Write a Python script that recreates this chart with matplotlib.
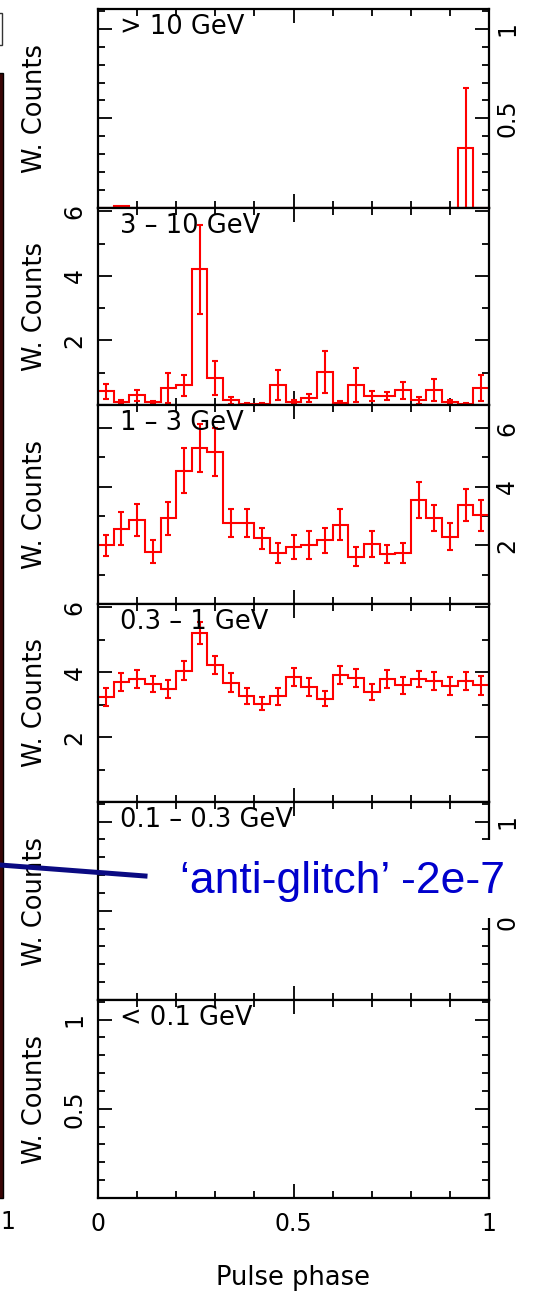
import numpy as np
import matplotlib
matplotlib.use("Agg")
import matplotlib.pyplot as plt
from matplotlib.patches import Rectangle
from matplotlib.lines import Line2D
from matplotlib.ticker import MultipleLocator

# ---------------------------------------------------------------------------
# Weighted pulse-phase histograms, 25 phase bins per energy band
# ---------------------------------------------------------------------------
n_bins = 25
phase_edges = np.linspace(0.0, 1.0, n_bins + 1)

band_labels = ["> 10 GeV", "3 \u2013 10 GeV", "1 \u2013 3 GeV",
               "0.3 \u2013 1 GeV", "0.1 \u2013 0.3 GeV", "< 0.1 GeV"]

counts_gt10 = [0, 0.01, 0, 0, 0, 0, 0, 0, 0, 0, 0, 0, 0, 0, 0, 0, 0, 0, 0, 0,
               0, 0, 0, 0.333, 0]
err_gt10 = [0, 0, 0, 0, 0, 0, 0, 0, 0, 0, 0, 0, 0, 0, 0, 0, 0, 0, 0, 0,
            0, 0, 0, 0.335, 0]

counts_3_10 = [0.42, 0.09, 0.30, 0.08, 0.53, 0.61, 4.20, 0.83, 0.14, 0.04,
               0.04, 0.61, 0.09, 0.22, 1.02, 0.07, 0.61, 0.27, 0.27, 0.45,
               0.14, 0.47, 0.09, 0.04, 0.53]
err_3_10 = [0.24, 0.05, 0.17, 0.05, 0.47, 0.33, 1.38, 0.53, 0.11, 0.03,
            0.03, 0.47, 0.05, 0.13, 0.65, 0.05, 0.53, 0.15, 0.13, 0.27,
            0.10, 0.34, 0.05, 0.03, 0.41]

counts_1_3 = [2.00, 2.57, 2.86, 1.79, 2.92, 4.55, 5.32, 5.18, 2.77, 2.77,
              2.25, 1.74, 1.94, 2.02, 2.17, 2.71, 1.62, 2.05, 1.71, 1.74,
              3.54, 2.94, 2.29, 3.38, 3.02]
err_1_3 = [0.35, 0.57, 0.55, 0.39, 0.57, 0.77, 0.81, 0.82, 0.47, 0.48,
           0.36, 0.33, 0.41, 0.47, 0.44, 0.53, 0.31, 0.43, 0.31, 0.34,
           0.62, 0.45, 0.46, 0.54, 0.53]

counts_03_1 = [3.24, 3.70, 3.79, 3.64, 3.48, 4.05, 5.22, 4.21, 3.67, 3.26,
               3.03, 3.26, 3.86, 3.55, 3.18, 3.91, 3.82, 3.38, 3.79, 3.59,
               3.79, 3.72, 3.57, 3.72, 3.59]
err_03_1 = [0.28, 0.28, 0.28, 0.25, 0.27, 0.28, 0.34, 0.28, 0.29, 0.25,
            0.21, 0.26, 0.28, 0.27, 0.23, 0.28, 0.28, 0.24, 0.27, 0.27,
            0.25, 0.28, 0.27, 0.28, 0.28]

# no photons survive in the two lowest bands
band_counts = [counts_gt10, counts_3_10, counts_1_3, counts_03_1, None, None]
band_errors = [err_gt10, err_3_10, err_1_3, err_03_1, None, None]

y_max = [1.11, 6.1, 6.79, 6.1, 1.11, 1.11]
y_major = [[0.5, 1], [2, 4, 6], [2, 4, 6], [2, 4, 6], [0.5, 1], [0.5, 1]]
y_major_text = [["0.5", "1"], ["2", "4", "6"], ["2", "4", "6"],
                ["2", "4", "6"], ["0.5", "1"], ["0.5", "1"]]
y_minor_step = [0.1, 1, 1, 1, 0.1, 0.1]
label_side = ["right", "left", "right", "left", "right", "left"]

x_ticks = [0, 0.5, 1]
x_tick_text = ["0", "0.5", "1"]

# ---------------------------------------------------------------------------
W, H = 548, 1292
fig = plt.figure(figsize=(W / 100, H / 100), dpi=100)
plt.rcParams["font.family"] = "DejaVu Sans"


def fx(x):
    return x / W


def fy(y):
    return 1 - y / H


panel_left, panel_right = 98, 489
panel_bounds = [9, 208, 405, 604, 802, 1000, 1198]
FS = 17       # tick labels
FS_LAB = 18.5  # axis / band labels

for i in range(6):
    top, bot = panel_bounds[i], panel_bounds[i + 1]
    ax = fig.add_axes([fx(panel_left), fy(bot), fx(panel_right - panel_left),
                       (bot - top) / H])
    ax.set_xlim(0, 1)
    ax.set_ylim(0, y_max[i])

    if band_counts[i] is not None:
        vals = np.asarray(band_counts[i])
        errs = np.asarray(band_errors[i])
        ax.stairs(vals, phase_edges, color="red", lw=1.5, zorder=2)
        centers = 0.5 * (phase_edges[:-1] + phase_edges[1:])
        has_err = errs > 0
        ax.errorbar(centers[has_err], vals[has_err], yerr=errs[has_err],
                    fmt="none", ecolor="red", elinewidth=1.5, capsize=2.5,
                    capthick=1.5, zorder=2)

    for sp in ax.spines.values():
        sp.set_linewidth(1.6)
        sp.set_zorder(3)

    ax.set_xticks(x_ticks)
    ax.xaxis.set_minor_locator(MultipleLocator(0.1))
    ax.set_yticks(y_major[i])
    ax.yaxis.set_minor_locator(MultipleLocator(y_minor_step[i]))
    ax.tick_params(which="both", direction="in", top=True, right=True,
                   width=1.3, labelsize=FS)
    ax.tick_params(which="major", length=10)
    ax.tick_params(which="minor", length=5)

    if i == 5:
        ax.set_xticklabels(x_tick_text)
        ax.tick_params(axis="x", pad=10)
        ax.set_xlabel("Pulse phase", fontsize=FS_LAB, labelpad=21)
    else:
        ax.set_xticklabels([])

    ax.set_yticklabels(y_major_text[i], rotation=90, va="center",
                       ha="center")
    if label_side[i] == "right":
        ax.tick_params(axis="y", labelleft=False, labelright=True, pad=13)
    else:
        ax.tick_params(axis="y", labelleft=True, labelright=False, pad=17)

    ax.text(0.056, 1 - 25 / (bot - top), band_labels[i], transform=ax.transAxes,
            fontsize=FS_LAB, va="baseline", ha="left")
    fig.text(fx(35), fy(0.5 * (top + bot)), "W. Counts", rotation=90,
             fontsize=FS_LAB, ha="center", va="center")

# edge of the neighbouring phaseogram panel
fig.patches.append(Rectangle((fx(-4), fy(1198)), fx(7), (1198 - 73) / H,
                             transform=fig.transFigure, facecolor="#3a0505",
                             edgecolor="black", lw=1.0, zorder=4))
fig.patches.append(Rectangle((fx(-4), fy(45)), fx(6), 32 / H,
                             transform=fig.transFigure, facecolor="none",
                             edgecolor="#333333", lw=1.0, zorder=4))
fig.text(fx(0), fy(1222), "1", fontsize=FS, ha="left", va="center")

# annotation
fig.patches.append(Rectangle((fx(145), fy(918)), fx(W - 145), 78 / H,
                             transform=fig.transFigure, facecolor="white",
                             edgecolor="none", zorder=5))
fig.lines.append(Line2D([fx(0), fx(145)], [fy(865), fy(876)],
                        transform=fig.transFigure, color="#0a0a82", lw=3.6,
                        zorder=6))
fig.text(fx(180), fy(893), "\u2018anti-glitch\u2019 -2e-7", color="#0000cc",
         fontsize=32, family="Liberation Sans", ha="left", va="baseline",
         zorder=7)

fig.savefig("out.png", dpi=100)
